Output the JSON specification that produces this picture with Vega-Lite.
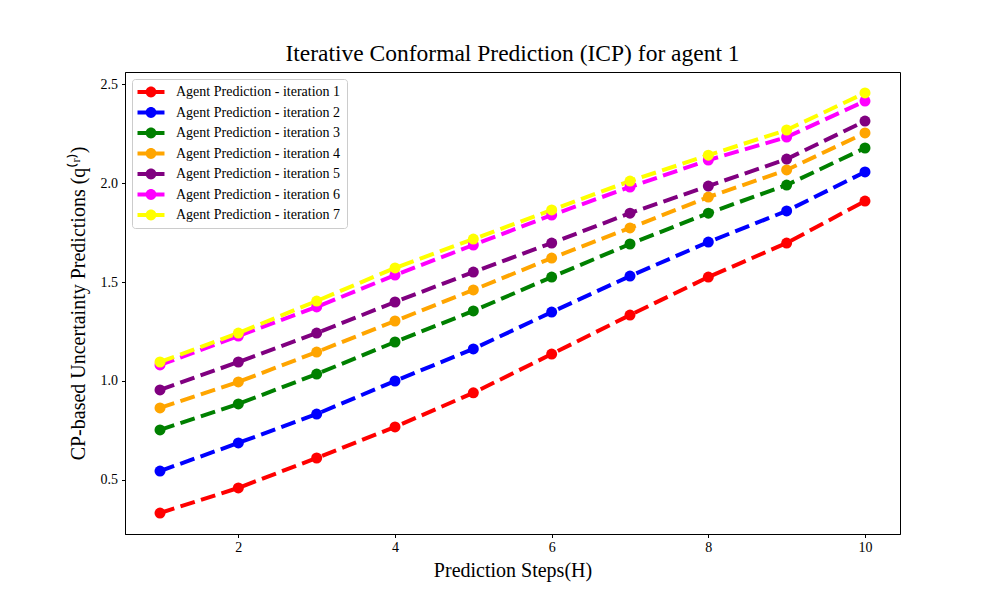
{
  "$schema": "https://vega.github.io/schema/vega-lite/v6.json",
  "autosize": "none",
  "width": 775,
  "height": 462,
  "padding": {"left": 125, "top": 72, "right": 100, "bottom": 66},
  "background": "white",
  "config": {
    "font": "Liberation Serif",
    "view": {"stroke": "black", "strokeWidth": 1},
    "axis": {"grid": false, "domainColor": "black", "tickColor": "black", "labelColor": "black", "titleColor": "black", "labelFont": "Liberation Serif", "titleFont": "Liberation Serif", "titleFontWeight": "normal", "labelFontSize": 14, "titleFontSize": 20, "tickSize": 3.5}
  },
  "title": {"text": "Iterative Conformal Prediction (ICP) for agent 1", "font": "Liberation Serif", "fontSize": 23.5, "fontWeight": "normal", "offset": 7, "color": "black"},
  "data": {"values": [
    {"step": 1, "q": 0.333, "series": "Agent Prediction - iteration 1"},
    {"step": 2, "q": 0.460, "series": "Agent Prediction - iteration 1"},
    {"step": 3, "q": 0.611, "series": "Agent Prediction - iteration 1"},
    {"step": 4, "q": 0.768, "series": "Agent Prediction - iteration 1"},
    {"step": 5, "q": 0.940, "series": "Agent Prediction - iteration 1"},
    {"step": 6, "q": 1.136, "series": "Agent Prediction - iteration 1"},
    {"step": 7, "q": 1.333, "series": "Agent Prediction - iteration 1"},
    {"step": 8, "q": 1.525, "series": "Agent Prediction - iteration 1"},
    {"step": 9, "q": 1.697, "series": "Agent Prediction - iteration 1"},
    {"step": 10, "q": 1.909, "series": "Agent Prediction - iteration 1"},
    {"step": 1, "q": 0.545, "series": "Agent Prediction - iteration 2"},
    {"step": 2, "q": 0.687, "series": "Agent Prediction - iteration 2"},
    {"step": 3, "q": 0.833, "series": "Agent Prediction - iteration 2"},
    {"step": 4, "q": 1.000, "series": "Agent Prediction - iteration 2"},
    {"step": 5, "q": 1.162, "series": "Agent Prediction - iteration 2"},
    {"step": 6, "q": 1.348, "series": "Agent Prediction - iteration 2"},
    {"step": 7, "q": 1.530, "series": "Agent Prediction - iteration 2"},
    {"step": 8, "q": 1.702, "series": "Agent Prediction - iteration 2"},
    {"step": 9, "q": 1.859, "series": "Agent Prediction - iteration 2"},
    {"step": 10, "q": 2.056, "series": "Agent Prediction - iteration 2"},
    {"step": 1, "q": 0.753, "series": "Agent Prediction - iteration 3"},
    {"step": 2, "q": 0.884, "series": "Agent Prediction - iteration 3"},
    {"step": 3, "q": 1.035, "series": "Agent Prediction - iteration 3"},
    {"step": 4, "q": 1.197, "series": "Agent Prediction - iteration 3"},
    {"step": 5, "q": 1.354, "series": "Agent Prediction - iteration 3"},
    {"step": 6, "q": 1.525, "series": "Agent Prediction - iteration 3"},
    {"step": 7, "q": 1.692, "series": "Agent Prediction - iteration 3"},
    {"step": 8, "q": 1.848, "series": "Agent Prediction - iteration 3"},
    {"step": 9, "q": 1.990, "series": "Agent Prediction - iteration 3"},
    {"step": 10, "q": 2.177, "series": "Agent Prediction - iteration 3"},
    {"step": 1, "q": 0.864, "series": "Agent Prediction - iteration 4"},
    {"step": 2, "q": 0.995, "series": "Agent Prediction - iteration 4"},
    {"step": 3, "q": 1.146, "series": "Agent Prediction - iteration 4"},
    {"step": 4, "q": 1.303, "series": "Agent Prediction - iteration 4"},
    {"step": 5, "q": 1.460, "series": "Agent Prediction - iteration 4"},
    {"step": 6, "q": 1.621, "series": "Agent Prediction - iteration 4"},
    {"step": 7, "q": 1.773, "series": "Agent Prediction - iteration 4"},
    {"step": 8, "q": 1.929, "series": "Agent Prediction - iteration 4"},
    {"step": 9, "q": 2.066, "series": "Agent Prediction - iteration 4"},
    {"step": 10, "q": 2.253, "series": "Agent Prediction - iteration 4"},
    {"step": 1, "q": 0.955, "series": "Agent Prediction - iteration 5"},
    {"step": 2, "q": 1.096, "series": "Agent Prediction - iteration 5"},
    {"step": 3, "q": 1.242, "series": "Agent Prediction - iteration 5"},
    {"step": 4, "q": 1.399, "series": "Agent Prediction - iteration 5"},
    {"step": 5, "q": 1.550, "series": "Agent Prediction - iteration 5"},
    {"step": 6, "q": 1.697, "series": "Agent Prediction - iteration 5"},
    {"step": 7, "q": 1.848, "series": "Agent Prediction - iteration 5"},
    {"step": 8, "q": 1.985, "series": "Agent Prediction - iteration 5"},
    {"step": 9, "q": 2.121, "series": "Agent Prediction - iteration 5"},
    {"step": 10, "q": 2.313, "series": "Agent Prediction - iteration 5"},
    {"step": 1, "q": 1.081, "series": "Agent Prediction - iteration 6"},
    {"step": 2, "q": 1.227, "series": "Agent Prediction - iteration 6"},
    {"step": 3, "q": 1.374, "series": "Agent Prediction - iteration 6"},
    {"step": 4, "q": 1.535, "series": "Agent Prediction - iteration 6"},
    {"step": 5, "q": 1.687, "series": "Agent Prediction - iteration 6"},
    {"step": 6, "q": 1.838, "series": "Agent Prediction - iteration 6"},
    {"step": 7, "q": 1.980, "series": "Agent Prediction - iteration 6"},
    {"step": 8, "q": 2.116, "series": "Agent Prediction - iteration 6"},
    {"step": 9, "q": 2.232, "series": "Agent Prediction - iteration 6"},
    {"step": 10, "q": 2.414, "series": "Agent Prediction - iteration 6"},
    {"step": 1, "q": 1.096, "series": "Agent Prediction - iteration 7"},
    {"step": 2, "q": 1.242, "series": "Agent Prediction - iteration 7"},
    {"step": 3, "q": 1.404, "series": "Agent Prediction - iteration 7"},
    {"step": 4, "q": 1.571, "series": "Agent Prediction - iteration 7"},
    {"step": 5, "q": 1.717, "series": "Agent Prediction - iteration 7"},
    {"step": 6, "q": 1.864, "series": "Agent Prediction - iteration 7"},
    {"step": 7, "q": 2.010, "series": "Agent Prediction - iteration 7"},
    {"step": 8, "q": 2.141, "series": "Agent Prediction - iteration 7"},
    {"step": 9, "q": 2.268, "series": "Agent Prediction - iteration 7"},
    {"step": 10, "q": 2.455, "series": "Agent Prediction - iteration 7"}
  ]},
  "encoding": {
    "x": {"field": "step", "type": "quantitative", "scale": {"domain": [0.553, 10.447], "nice": false, "zero": false},
      "axis": {"values": [2, 4, 6, 8, 10], "format": "d", "title": "Prediction Steps(H)", "labelPadding": 3, "titlePadding": 6}},
    "y": {"field": "q", "type": "quantitative", "scale": {"domain": [0.227, 2.561], "nice": false, "zero": false},
      "axis": {"values": [0.5, 1.0, 1.5, 2.0, 2.5], "format": ".1f", "title": "CP-based Uncertainty Predictions (q⁽ʳ⁾)", "labelPadding": 4, "titlePadding": 12}},
    "color": {"field": "series", "type": "nominal",
      "scale": {"range": ["red", "blue", "green", "orange", "purple", "magenta", "yellow"]},
      "legend": {"title": null, "orient": "top-left", "offset": 7, "fillColor": "white", "strokeColor": "#cccccc", "cornerRadius": 3,
        "padding": 6, "symbolOffset": 6, "labelFont": "Liberation Serif", "labelFontSize": 14, "labelColor": "black", "labelOffset": 18, "labelLimit": 300,
        "rowPadding": 6.5, "symbolSize": 182, "symbolStrokeWidth": 0, "symbolOpacity": 1,
        "symbolType": "M-2,-0.3H2V0.3H-2Z M-0.8,0A0.8,0.8 0 1,1 0.8,0A0.8,0.8 0 1,1 -0.8,0Z"}}
  },
  "layer": [
    {"mark": {"type": "line", "strokeWidth": 4, "strokeDash": [15, 6.5]}},
    {"mark": {"type": "point", "shape": "circle", "filled": true, "size": 121, "opacity": 1}}
  ]
}
